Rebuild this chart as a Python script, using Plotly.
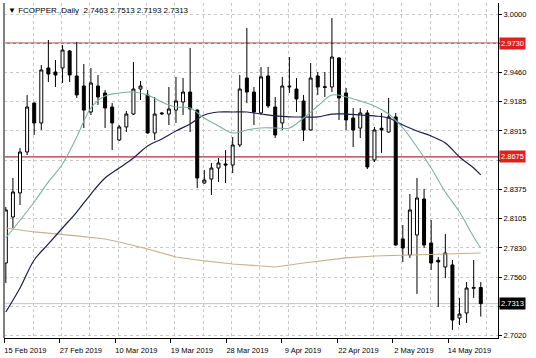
import plotly.graph_objects as go

# ---------------- data ----------------
symbol = "FCOPPER.,Daily"
opens = [2.7690, 2.8117, 2.8340, 2.8720, 2.9174, 2.8989, 2.9499, 2.9462, 2.9499, 2.9657,
         2.9425, 2.9332, 2.9091, 2.9332, 2.9267, 2.9137, 2.8831, 2.8952, 2.9072, 2.9304,
         2.9249, 2.8896, 2.9082, 2.9072, 2.9109, 2.9184, 2.9276, 2.9109, 2.8432, 2.8469,
         2.8571, 2.8609, 2.8599, 2.8785, 2.9406, 2.9276, 2.9082, 2.9425, 2.9137, 2.8989,
         2.9323, 2.9304, 2.9193, 2.8924, 2.9425, 2.9325, 2.9323, 2.9592, 2.9267, 2.9035,
         2.8942, 2.9082, 2.8646, 2.8940, 2.8905, 2.9045, 2.7913, 2.7764, 2.7950, 2.8284,
         2.7876, 2.7715, 2.7653, 2.7672, 2.7180, 2.7226, 2.7455, 2.7463]
highs = [2.8210, 2.8479, 2.8757, 2.9249, 2.9180, 2.9527, 2.9759, 2.9573, 2.9712, 2.9666,
         2.9740, 2.9536, 2.9499, 2.9434, 2.9295, 2.9174, 2.8970, 2.9100, 2.9555, 2.9378,
         2.9295, 2.9230, 2.9091, 2.9323, 2.9416, 2.9406, 2.9685, 2.9115, 2.8553, 2.8618,
         2.8664, 2.8738, 2.8859, 2.9434, 2.9870, 2.9323, 2.9508, 2.9508, 2.9230, 2.9416,
         2.9601, 2.9406, 2.9249, 2.9545, 2.9462, 2.9462, 2.9963, 2.9600, 2.9314, 2.9128,
         2.9128, 2.9109, 2.8952, 2.9082, 2.9221, 2.9082, 2.8043, 2.8330, 2.8479, 2.8377,
         2.8089, 2.7746, 2.7959, 2.7718, 2.7366, 2.7514, 2.7718, 2.7513]
lows = [2.7505, 2.8015, 2.8228, 2.8692, 2.8878, 2.8924, 2.9369, 2.9323, 2.9360, 2.9369,
        2.9221, 2.8942, 2.9063, 2.9156, 2.8942, 2.8738, 2.8822, 2.8905, 2.9063, 2.9202,
        2.8890, 2.8831, 2.9063, 2.8970, 2.8989, 2.9063, 2.8905, 2.8386, 2.8425, 2.8321,
        2.8442, 2.8432, 2.8525, 2.8766, 2.9174, 2.8970, 2.9063, 2.9128, 2.8850, 2.8924,
        2.9267, 2.9091, 2.8822, 2.8920, 2.9249, 2.9230, 2.9276, 2.9017, 2.8924, 2.8766,
        2.8850, 2.8562, 2.8627, 2.8711, 2.8900, 2.7850, 2.7699, 2.7737, 2.7403, 2.7829,
        2.7625, 2.7282, 2.7551, 2.7069, 2.7115, 2.7134, 2.7366, 2.7193]
closes = [2.8182, 2.8349, 2.8720, 2.9137, 2.8989, 2.9481, 2.9443, 2.9434, 2.9666, 2.9434,
          2.9249, 2.9109, 2.9360, 2.9230, 2.9128, 2.8989, 2.8952, 2.9072, 2.9304, 2.9332,
          2.8896, 2.9072, 2.9075, 2.9119, 2.9193, 2.9276, 2.9119, 2.8479, 2.8460, 2.8571,
          2.8618, 2.8599, 2.8785, 2.9304, 2.9276, 2.9091, 2.9416, 2.9147, 2.8878, 2.9332,
          2.9330, 2.9212, 2.8924, 2.9406, 2.9323, 2.9320, 2.9601, 2.9221, 2.9017, 2.8924,
          2.9082, 2.8581, 2.8924, 2.8925, 2.9045, 2.7857, 2.7829, 2.8182, 2.8293, 2.7857,
          2.7690, 2.7700, 2.7783, 2.7161, 2.7217, 2.7458, 2.7463, 2.7313]

# moving averages (bar index -> value)
ma_fast_idx = [0, 4, 6, 8, 10, 12, 14, 16, 18, 20, 22, 24, 26, 28, 30, 32, 34, 36, 38, 40,
               42, 44, 46, 48, 50, 52, 54, 56, 58, 60, 62, 64, 66, 67]
ma_fast = [2.7922, 2.8256, 2.8442, 2.8609, 2.8859, 2.9128, 2.9239, 2.9267, 2.9276, 2.9249,
           2.9184, 2.9137, 2.9128, 2.9035, 2.8961, 2.8896, 2.8924, 2.8943, 2.8943, 2.8943,
           2.9035, 2.9147, 2.9249, 2.9230, 2.9193, 2.9147, 2.9072, 2.8943, 2.8766, 2.8571,
           2.8349, 2.8163, 2.7931, 2.7829]
ma_mid_idx = [0, 2, 4, 6, 8, 10, 12, 14, 16, 18, 20, 22, 24, 26, 28, 30, 32, 34, 36, 38,
              40, 42, 44, 46, 48, 50, 52, 54, 56, 58, 60, 62, 64, 66, 67]
ma_mid = [2.7236, 2.7458, 2.7718, 2.7867, 2.8015, 2.8163, 2.8330, 2.8479, 2.8571, 2.8664,
          2.8776, 2.8841, 2.8915, 2.8980, 2.9063, 2.9091, 2.9091, 2.9091, 2.9072, 2.9054,
          2.9045, 2.9045, 2.9045, 2.9072, 2.9072, 2.9063, 2.9054, 2.9035, 2.8970, 2.8915,
          2.8868, 2.8803, 2.8674, 2.8571, 2.8507]
ma_slow_idx = [0, 4, 10, 14, 16, 20, 24, 28, 32, 38, 42, 48, 52, 58, 62, 67]
ma_slow = [2.8015, 2.7978, 2.7941, 2.7913, 2.7885, 2.7820, 2.7746, 2.7709, 2.7681, 2.7653,
           2.7690, 2.7737, 2.7755, 2.7764, 2.7774, 2.7783]

levels = [2.9730, 2.8675]
y_tickvals = [3.0000, 2.9730, 2.9460, 2.9185, 2.8915, 2.8645, 2.8375, 2.8105, 2.7830, 2.7560, 2.7291, 2.7020]
# labels hidden behind the level / price boxes are left blank
y_ticktext = ["3.0000", "", "2.9460", "2.9185", "2.8915", "", "2.8375", "2.8105", "2.7830", "2.7560", "", "2.7020"]
date_labels = ["15 Feb 2019", "27 Feb 2019", "10 Mar 2019", "19 Mar 2019", "28 Mar 2019",
               "9 Apr 2019", "22 Apr 2019", "2 May 2019", "14 May 2019"]
label_start, label_step = -0.2, 7.83
grid_start, grid_step = 3.85, 4.0
x_range = [-0.26, 69.43]
y_range = [2.69944, 3.0102]

FONT = "Liberation Sans"
FS = 7.5
bars = list(range(len(opens)))
date_pos = [label_start + label_step * k for k in range(len(date_labels))]

fig = go.Figure()
fig.add_trace(go.Candlestick(
    x=bars, open=opens, high=highs, low=lows, close=closes,
    increasing=dict(line=dict(color="black", width=1), fillcolor="white"),
    decreasing=dict(line=dict(color="black", width=1), fillcolor="black"),
    whiskerwidth=0, showlegend=False, hoverinfo="skip"))
fig.add_trace(go.Scatter(x=ma_slow_idx, y=ma_slow, mode="lines",
                         line=dict(color="#c9b08c", width=1.2), showlegend=False, hoverinfo="skip"))
fig.add_trace(go.Scatter(x=ma_mid_idx, y=ma_mid, mode="lines", line_shape="spline",
                         line=dict(color="#1c1f4f", width=1.2), showlegend=False, hoverinfo="skip"))
fig.add_trace(go.Scatter(x=ma_fast_idx, y=ma_fast, mode="lines", line_shape="spline",
                         line=dict(color="#7db39c", width=1.1), showlegend=False, hoverinfo="skip"))

shapes = []
for lv in levels:
    shapes.append(dict(type="line", xref="paper", yref="y", x0=0, x1=1, y0=lv, y1=lv,
                       line=dict(color="#a8343c", width=1.2), layer="below"))
shapes.append(dict(type="line", xref="paper", yref="y", x0=0, x1=1, y0=closes[-1], y1=closes[-1],
                   line=dict(color="#c4c4c4", width=1), layer="below"))
shapes.append(dict(type="line", xref="paper", yref="paper", x0=0, x1=0, y0=0, y1=1,
                   line=dict(color="#808080", width=2)))

annotations = []
for lv in levels:
    annotations.append(dict(xref="paper", yref="y", x=1, y=lv, xanchor="left", yanchor="middle",
                            xshift=1, text=f"{lv:.4f}", showarrow=False,
                            font=dict(family=FONT, size=FS, color="white"),
                            bgcolor="#e0201c", borderpad=1))
annotations.append(dict(xref="paper", yref="y", x=1, y=closes[-1], xanchor="left", yanchor="middle",
                        xshift=1, text=f"{closes[-1]:.4f}", showarrow=False,
                        font=dict(family=FONT, size=FS, color="white"),
                        bgcolor="black", borderpad=1))
annotations.append(dict(xref="paper", yref="paper", x=0, y=1, xanchor="left", yanchor="top",
                        xshift=2, yshift=-1, showarrow=False,
                        text=f"▼ {symbol}  {opens[-1]:.4f} {highs[-1]:.4f} {lows[-1]:.4f} {closes[-1]:.4f}",
                        font=dict(family=FONT, size=FS + 0.5, color="black")))

fig.update_layout(
    width=536, height=358,
    margin=dict(l=4, r=38, t=3, b=20),
    paper_bgcolor="white", plot_bgcolor="white",
    showlegend=False, boxgap=0.4,
    font=dict(family=FONT, size=FS, color="black"),
    shapes=shapes, annotations=annotations,
    xaxis=dict(range=x_range, rangeslider=dict(visible=False),
               tickmode="array", tickvals=date_pos, ticktext=date_labels,
               ticks="outside", ticklen=4, tickcolor="black", tickwidth=1,
               ticklabelshift=21, ticklabelstandoff=1,
               showgrid=False, zeroline=False, showline=True, linecolor="black", linewidth=1,
               tickfont=dict(family=FONT, size=FS, color="black"),
               minor=dict(tickmode="linear", tick0=grid_start, dtick=grid_step, ticks="",
                          showgrid=True, gridcolor="#c8c8c8", griddash="3px,3px", gridwidth=1)),
    yaxis=dict(range=y_range, side="right", tickmode="array", tickvals=y_tickvals, ticktext=y_ticktext,
               ticks="outside", ticklen=3, tickcolor="black",
               showgrid=True, gridcolor="#c8c8c8", griddash="3px,3px", gridwidth=1,
               zeroline=False, showline=True, linecolor="black", linewidth=1,
               tickfont=dict(family=FONT, size=FS, color="black")),
)

fig.write_html("out.html", config={"displayModeBar": False, "staticPlot": True},
               post_script="document.body.style.margin='0';document.body.style.overflow='hidden';")
